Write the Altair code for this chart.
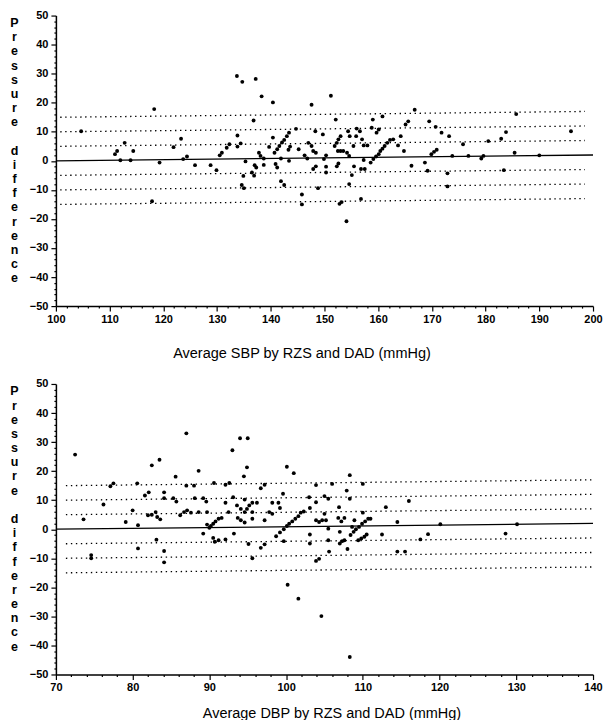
import altair as alt
import pandas as pd

# ---------------- data: systolic panel ----------------
sbp_mean = [104.7, 111.0, 111.4, 112.0, 112.8, 113.9, 114.4, 118.3, 117.9, 119.3,
            121.9, 123.3, 123.7, 124.4, 125.9, 128.8, 129.9, 130.5, 130.9, 131.8,
            132.3, 133.8, 134.4, 133.8, 133.7, 134.7, 137.2, 138.3, 140.4, 136.8,
            135.3, 134.9, 134.6, 135.0, 136.5, 136.9, 137.0, 137.3, 137.8, 138.1,
            138.7, 138.7, 139.7, 140.4, 140.7, 141.2, 141.6, 142.1, 142.5, 143.0,
            143.4, 140.9, 141.2, 141.9, 141.9, 142.5, 143.3, 143.6, 143.4, 144.7,
            145.2, 145.8, 145.8, 146.3, 146.8, 147.0, 147.6, 147.6, 147.9, 148.4,
            147.9, 148.4, 148.3, 148.8, 149.7, 149.9, 150.3, 150.3, 150.3, 151.2,
            151.9, 152.3, 152.6, 153.0, 152.1, 152.3, 152.6, 152.5, 153.0, 153.5,
            152.8, 153.2, 154.1, 154.2, 154.6, 154.4, 154.7, 155.4, 155.9, 154.6,
            155.1, 155.5, 156.0, 156.6, 157.0, 157.3, 158.0, 156.8, 157.5, 156.8,
            157.3, 158.6, 159.0, 158.8, 159.1, 159.6, 160.1, 160.4, 160.8, 161.2,
            161.7, 162.2, 162.8, 159.7, 160.1, 160.8, 163.7, 164.2, 164.8, 165.1,
            165.6, 166.2, 166.8, 168.7, 169.2, 169.5, 169.9, 170.4, 170.9, 170.7,
            171.8, 172.9, 172.9, 173.2, 173.8, 175.8, 176.8, 179.2, 179.6, 180.5,
            182.9, 183.4, 183.8, 185.4, 185.7, 190.0, 195.9]
sbp_diff = [10.2, 2.3, 3.4, 0.2, 6.2, 0.2, 3.4, 17.8, -13.9, -0.6,
            4.7, 7.6, 0.6, 1.5, -1.5, -1.5, -3.2, 1.9, 2.8, 4.5,
            5.7, 4.9, 6.0, 8.7, 29.2, 27.2, 28.2, 22.2, 20.1, 13.9,
            -0.2, -5.2, -8.3, -9.4, -4.0, -5.1, -1.5, -2.3, 2.8, 1.7,
            0.8, -1.4, 4.8, 8.0, 2.8, 4.0, 5.1, 6.3, 7.2, 8.5,
            9.7, -1.1, -2.3, 0.8, -7.0, -8.3, 3.8, 4.9, 0.0, 11.0,
            4.0, -11.6, -15.0, 1.9, 0.8, 6.2, 5.1, 19.3, 3.4, 2.8,
            -2.8, -1.9, 10.2, -9.4, 9.1, 0.6, 1.9, -2.0, -4.0, 22.4,
            5.1, 6.2, 7.4, 8.5, 14.2, -1.9, -0.9, 3.4, 3.4, 3.4,
            -14.8, -14.2, -20.8, 2.8, 1.7, 10.2, 8.5, 5.1, 8.5, -8.0,
            -4.9, -1.9, 11.1, 10.2, 7.4, 5.3, 5.3, -2.8, -2.8, -13.1,
            0.3, -0.6, 14.2, 11.4, 0.6, 1.5, 2.3, 3.4, 4.2, 5.1,
            6.2, 7.2, 7.4, 9.7, 10.8, 15.3, 5.3, 8.5, 3.4, 12.5,
            13.6, -1.7, 17.6, -0.6, -3.4, 13.6, 2.3, 3.1, 3.8, 11.7,
            9.7, -4.3, -8.8, 8.5, 1.7, 5.7, 1.7, 0.8, 1.7, 6.8,
            7.6, -3.2, 9.9, 2.8, 16.1, 1.9, 10.2]

sbp_fit_x = [100, 200]
sbp_fit_y = [0, 2]
sbp_band_x = [100.8, 198.5]
sbp_band_left = [15, 10, 5, -5, -10, -15]
sbp_band_right = [17, 12, 7, -3, -8, -13]

# ---------------- data: diastolic panel ----------------
dbp_mean = [72.5, 73.6, 74.6, 74.6, 76.2, 77.1, 77.5, 79.1, 80.0, 80.6,
            80.7, 80.7, 81.6, 82.1, 82.0, 82.5, 83.0, 83.2, 83.6, 82.5,
            83.5, 83.1, 84.1, 84.1, 84.1, 84.1, 85.6, 85.3, 85.7, 86.2,
            86.7, 87.1, 87.6, 87.0, 87.0, 88.0, 88.1, 88.6, 88.6, 89.2,
            89.2, 89.6, 89.7, 89.7, 90.0, 90.2, 90.5, 90.8, 91.2, 91.6,
            90.5, 90.7, 91.2, 90.6, 92.1, 92.1, 92.1, 92.6, 92.5, 93.0,
            93.1, 93.2, 93.7, 94.1, 94.6, 93.6, 94.1, 94.6, 94.9, 95.2,
            95.6, 94.0, 95.0, 94.5, 94.6, 94.9, 95.1, 95.6, 95.6, 95.6,
            96.2, 96.7, 97.2, 96.7, 97.2, 97.2, 97.8, 98.2, 98.2, 98.7,
            99.2, 99.7, 100.1, 100.4, 100.8, 101.2, 101.6, 101.9, 102.3, 99.0,
            99.2, 99.6, 99.7, 100.1, 101.0, 100.2, 101.6, 103.0, 103.1, 103.1,
            103.1, 103.9, 103.9, 103.9, 104.3, 104.7, 105.0, 105.2, 103.9, 104.3,
            104.6, 105.0, 105.5, 105.5, 105.5, 105.6, 106.0, 106.8, 107.2, 107.6,
            106.9, 107.0, 107.0, 107.3, 107.6, 107.9, 108.0, 108.3, 108.3, 108.3,
            108.4, 108.6, 108.9, 108.8, 109.1, 109.5, 109.9, 110.3, 110.7, 111.0,
            109.4, 109.8, 110.2, 110.5, 110.0, 110.0, 112.5, 113.0, 114.5, 114.5,
            115.5, 116.0, 117.5, 118.5, 120.1, 128.6, 130.1]
dbp_diff = [25.7, 3.4, -8.9, -10.0, 8.5, 14.8, 15.8, 2.5, 6.5, 15.8,
            1.4, -6.6, 11.6, 12.7, 4.8, 5.0, 5.9, 4.2, 3.4, 22.0,
            23.9, -3.6, 12.7, 10.7, -7.5, -11.4, 18.1, 10.7, 9.5, 4.8,
            5.9, 6.5, 5.7, 33.0, 15.0, 15.0, 10.7, 20.1, 5.9, -1.5,
            10.7, 9.5, 5.9, 1.6, 0.5, 1.1, 1.9, 2.7, 3.6, 3.9,
            -3.0, -4.3, -3.8, 15.9, 9.1, -3.5, 15.3, 15.9, 5.9, 27.2,
            11.0, -1.5, 3.9, 3.1, 2.3, 8.2, 7.0, 5.9, 7.0, 8.2,
            9.1, 31.3, 31.3, 18.2, 10.2, 21.3, -5.1, 3.6, 5.9, -10.0,
            9.1, -6.4, -5.2, 14.1, 15.3, 3.1, 5.9, 5.3, 9.1, -2.4,
            -1.1, 0.0, 1.1, 1.9, 2.7, 3.6, 4.5, 5.7, 6.1, 9.1,
            7.3, 12.2, -4.1, 21.5, 19.3, -19.1, -23.9, 11.0, -1.8, -4.9,
            7.3, 15.2, 9.3, 3.1, 2.5, 3.1, 5.3, 3.1, -10.9, -10.2,
            -29.9, 11.4, 10.5, 0.2, -3.8, -7.7, 15.6, 3.9, 2.7, 3.9,
            7.6, -0.9, -4.9, -4.1, -3.8, 13.3, -6.8, 18.6, 10.5, -44.0,
            -2.0, 0.8, 3.1, -0.9, 0.0, 0.8, 1.9, 2.7, 3.6, 3.6,
            -3.8, -3.2, -2.6, -1.8, 15.6, 5.7, -1.8, 7.6, 2.5, -7.7,
            -7.7, 9.7, -3.5, -1.7, 1.7, -1.5, 1.7]

dbp_fit_x = [70, 140]
dbp_fit_y = [0, 2]
dbp_band_x = [71.3, 140]
dbp_band_left = [15, 10, 5, -5, -10, -15]
dbp_band_right = [17, 12, 7, -3, -8, -13]

y_title = list("Pressure") + ["\u200b"] + list("difference")

LFONT = "Liberation Sans, Arial, sans-serif"
MAJOR_TEST = "datum.value % 10 === 0"


def panel(px, py, fx, fy, bx, bl, br, xdom, xtitle, title_x, title_pad):
    pts = pd.DataFrame({"m": px, "d": py})
    fit = pd.DataFrame({"m": fx, "d": fy})
    rows = []
    for i, (a, b) in enumerate(zip(bl, br)):
        rows.append({"m": bx[0], "d": a, "g": i})
        rows.append({"m": bx[1], "d": b, "g": i})
    band = pd.DataFrame(rows)

    xscale = alt.Scale(domain=xdom, nice=False, zero=False)
    yscale = alt.Scale(domain=[-50, 50], nice=False, zero=False)
    xaxis = alt.Axis(
        values=list(range(xdom[0], xdom[1] + 1, 2)),
        labelExpr=MAJOR_TEST + " ? datum.label : ''",
        labelOverlap=False, labelFlush=False, format="d",
        tickSize={"condition": {"test": MAJOR_TEST, "value": 5}, "value": 2},
        tickColor="black", domainColor="black", domainWidth=1.5,
        tickWidth=1.2,
        labelFont=LFONT, labelFontSize=11, labelFontWeight="bold", labelColor="black",
        labelPadding=2,
        title=xtitle, titleFont=LFONT, titleFontSize=14.5, titleFontWeight="normal",
        titleColor="black", titlePadding=title_pad, titleX=title_x, grid=False,
    )
    yaxis = alt.Axis(
        values=list(range(-50, 51, 2)),
        labelExpr=MAJOR_TEST + " ? datum.label : ''",
        labelOverlap=False, labelFlush=False, format="d",
        tickSize={"condition": {"test": MAJOR_TEST, "value": 5}, "value": 2},
        tickColor="black", domainColor="black", domainWidth=1.5,
        tickWidth=1.2,
        labelFont=LFONT, labelFontSize=11, labelFontWeight="bold", labelColor="black",
        labelPadding=3,
        title=y_title, titleAngle=0, titleAlign="center", titleBaseline="top",
        titleX=-42, titleY=1, titleLineHeight=14.2,
        titleFont=LFONT, titleFontSize=12.5, titleFontWeight="bold", titleColor="black",
        grid=False,
    )
    X = alt.X("m:Q", scale=xscale, axis=xaxis)
    Y = alt.Y("d:Q", scale=yscale, axis=yaxis)

    dots = alt.Chart(band).mark_line(
        color="black", strokeWidth=1.3, strokeDash=[1.4, 3.6], clip=True
    ).encode(x=X, y=Y, detail="g:N")
    line = alt.Chart(fit).mark_line(color="black", strokeWidth=1.3, clip=True).encode(
        x=X, y=Y)
    points = alt.Chart(pts).mark_circle(color="black", size=15, opacity=1).encode(
        x=X, y=Y)
    return alt.layer(dots, line, points).properties(width=538, height=291)


top = panel(sbp_mean, sbp_diff, sbp_fit_x, sbp_fit_y, sbp_band_x,
            sbp_band_left, sbp_band_right, [100, 200],
            "Average SBP by RZS and DAD (mmHg)", 246, 22)
bottom = panel(dbp_mean, dbp_diff, dbp_fit_x, dbp_fit_y, dbp_band_x,
               dbp_band_left, dbp_band_right, [70, 140],
               "Average DBP by RZS and DAD (mmHg)", 276, 14)

chart = alt.vconcat(top, bottom, spacing=18).properties(
    padding={"left": 9, "top": 9, "right": 2, "bottom": 2},
    background="white",
).configure_view(stroke=None)

chart.save("out.html", embed_options={"renderer": "svg", "actions": False})
